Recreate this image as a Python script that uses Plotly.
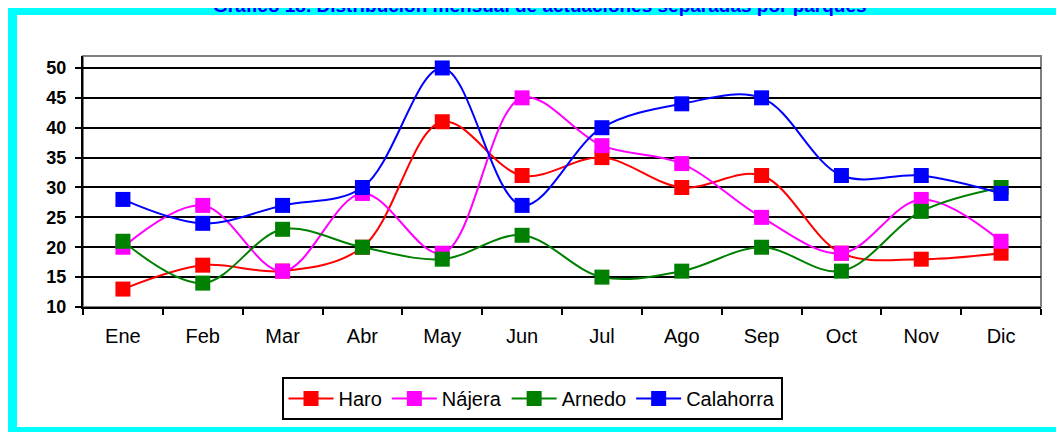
import plotly.graph_objects as go

months = ["Ene", "Feb", "Mar", "Abr", "May", "Jun", "Jul", "Ago", "Sep", "Oct", "Nov", "Dic"]
haro = [13, 17, 16, 20, 41, 32, 35, 30, 32, 19, 18, 19]
najera = [20, 27, 16, 29, 19, 45, 37, 34, 25, 19, 28, 21]
arnedo = [21, 14, 23, 20, 18, 22, 15, 16, 20, 16, 26, 30]
calahorra = [28, 24, 27, 30, 50, 27, 40, 44, 45, 32, 32, 29]

series = [
    ("Haro", haro, "#FF0000"),
    ("Nájera", najera, "#FF00FF"),
    ("Arnedo", arnedo, "#008000"),
    ("Calahorra", calahorra, "#0000FF"),
]

W, H = 1064, 432
OFF = 8  # page body margin
L, R, T, B = 83 - OFF, 1041 - OFF, 56 - OFF, 307 - OFF  # plot area pixels in figure coords
pw, ph = R - L, B - T

def px(x):
    return (x - OFF - L) / pw

def py(y):
    return (B - (y - OFF)) / ph

FONT = "Liberation Sans, Arial, sans-serif"

fig = go.Figure()
for name, vals, col in series:
    fig.add_trace(go.Scatter(
        x=months, y=vals, name=name, mode="lines+markers",
        line=dict(color=col, width=2, shape="spline", smoothing=1.0),
        marker=dict(symbol="square", size=15, color=col),
    ))

fig.update_layout(
    width=W, height=H,
    margin=dict(l=L, r=W - R, t=T, b=H - B),
    paper_bgcolor="white", plot_bgcolor="white",
    font=dict(family=FONT, color="black"),
    showlegend=True,
    legend=dict(
        orientation="h", x=px(532), y=py(377), xanchor="center", yanchor="top",
        bordercolor="black", borderwidth=2, bgcolor="white",
        font=dict(size=20, family=FONT, color="black"),
        itemwidth=45,
    ),
    xaxis=dict(
        type="category", showgrid=False, showline=True, linecolor="black", linewidth=2,
        ticks="outside", tickson="boundaries", ticklen=6, tickwidth=2, tickcolor="black",
        tickfont=dict(size=20, family=FONT, color="black"), range=[-0.5, 11.5],
        zeroline=False, ticklabelstandoff=10,
    ),
    yaxis=dict(
        range=[10, 52], dtick=5, tick0=10, showgrid=True, gridcolor="black", gridwidth=2,
        showline=True, linecolor="black", linewidth=2, ticks="outside", ticklen=6,
        tickwidth=2, tickcolor="black", zeroline=False, ticklabelstandoff=5,
        tickfont=dict(size=18, family=FONT, color="black", weight="bold"),
    ),
    shapes=[
        dict(type="rect", xref="paper", yref="paper", x0=0, x1=1, y0=0, y1=1,
             line=dict(color="#808080", width=2), layer="below"),
        dict(type="rect", xref="paper", yref="paper", x0=px(12), x1=px(1068),
             y0=py(432), y1=py(10), line=dict(color="#00FFFF", width=10), layer="above"),
    ],
    annotations=[
        dict(text="Gráfico 18. Distribución mensual de actuaciones separadas por parques",
             xref="paper", yref="paper", x=px(540), y=py(18), xanchor="center", yanchor="bottom",
             showarrow=False, font=dict(size=19, family=FONT, color="#0000FF", weight="bold")),
    ],
)

fig.write_html("out.html")
